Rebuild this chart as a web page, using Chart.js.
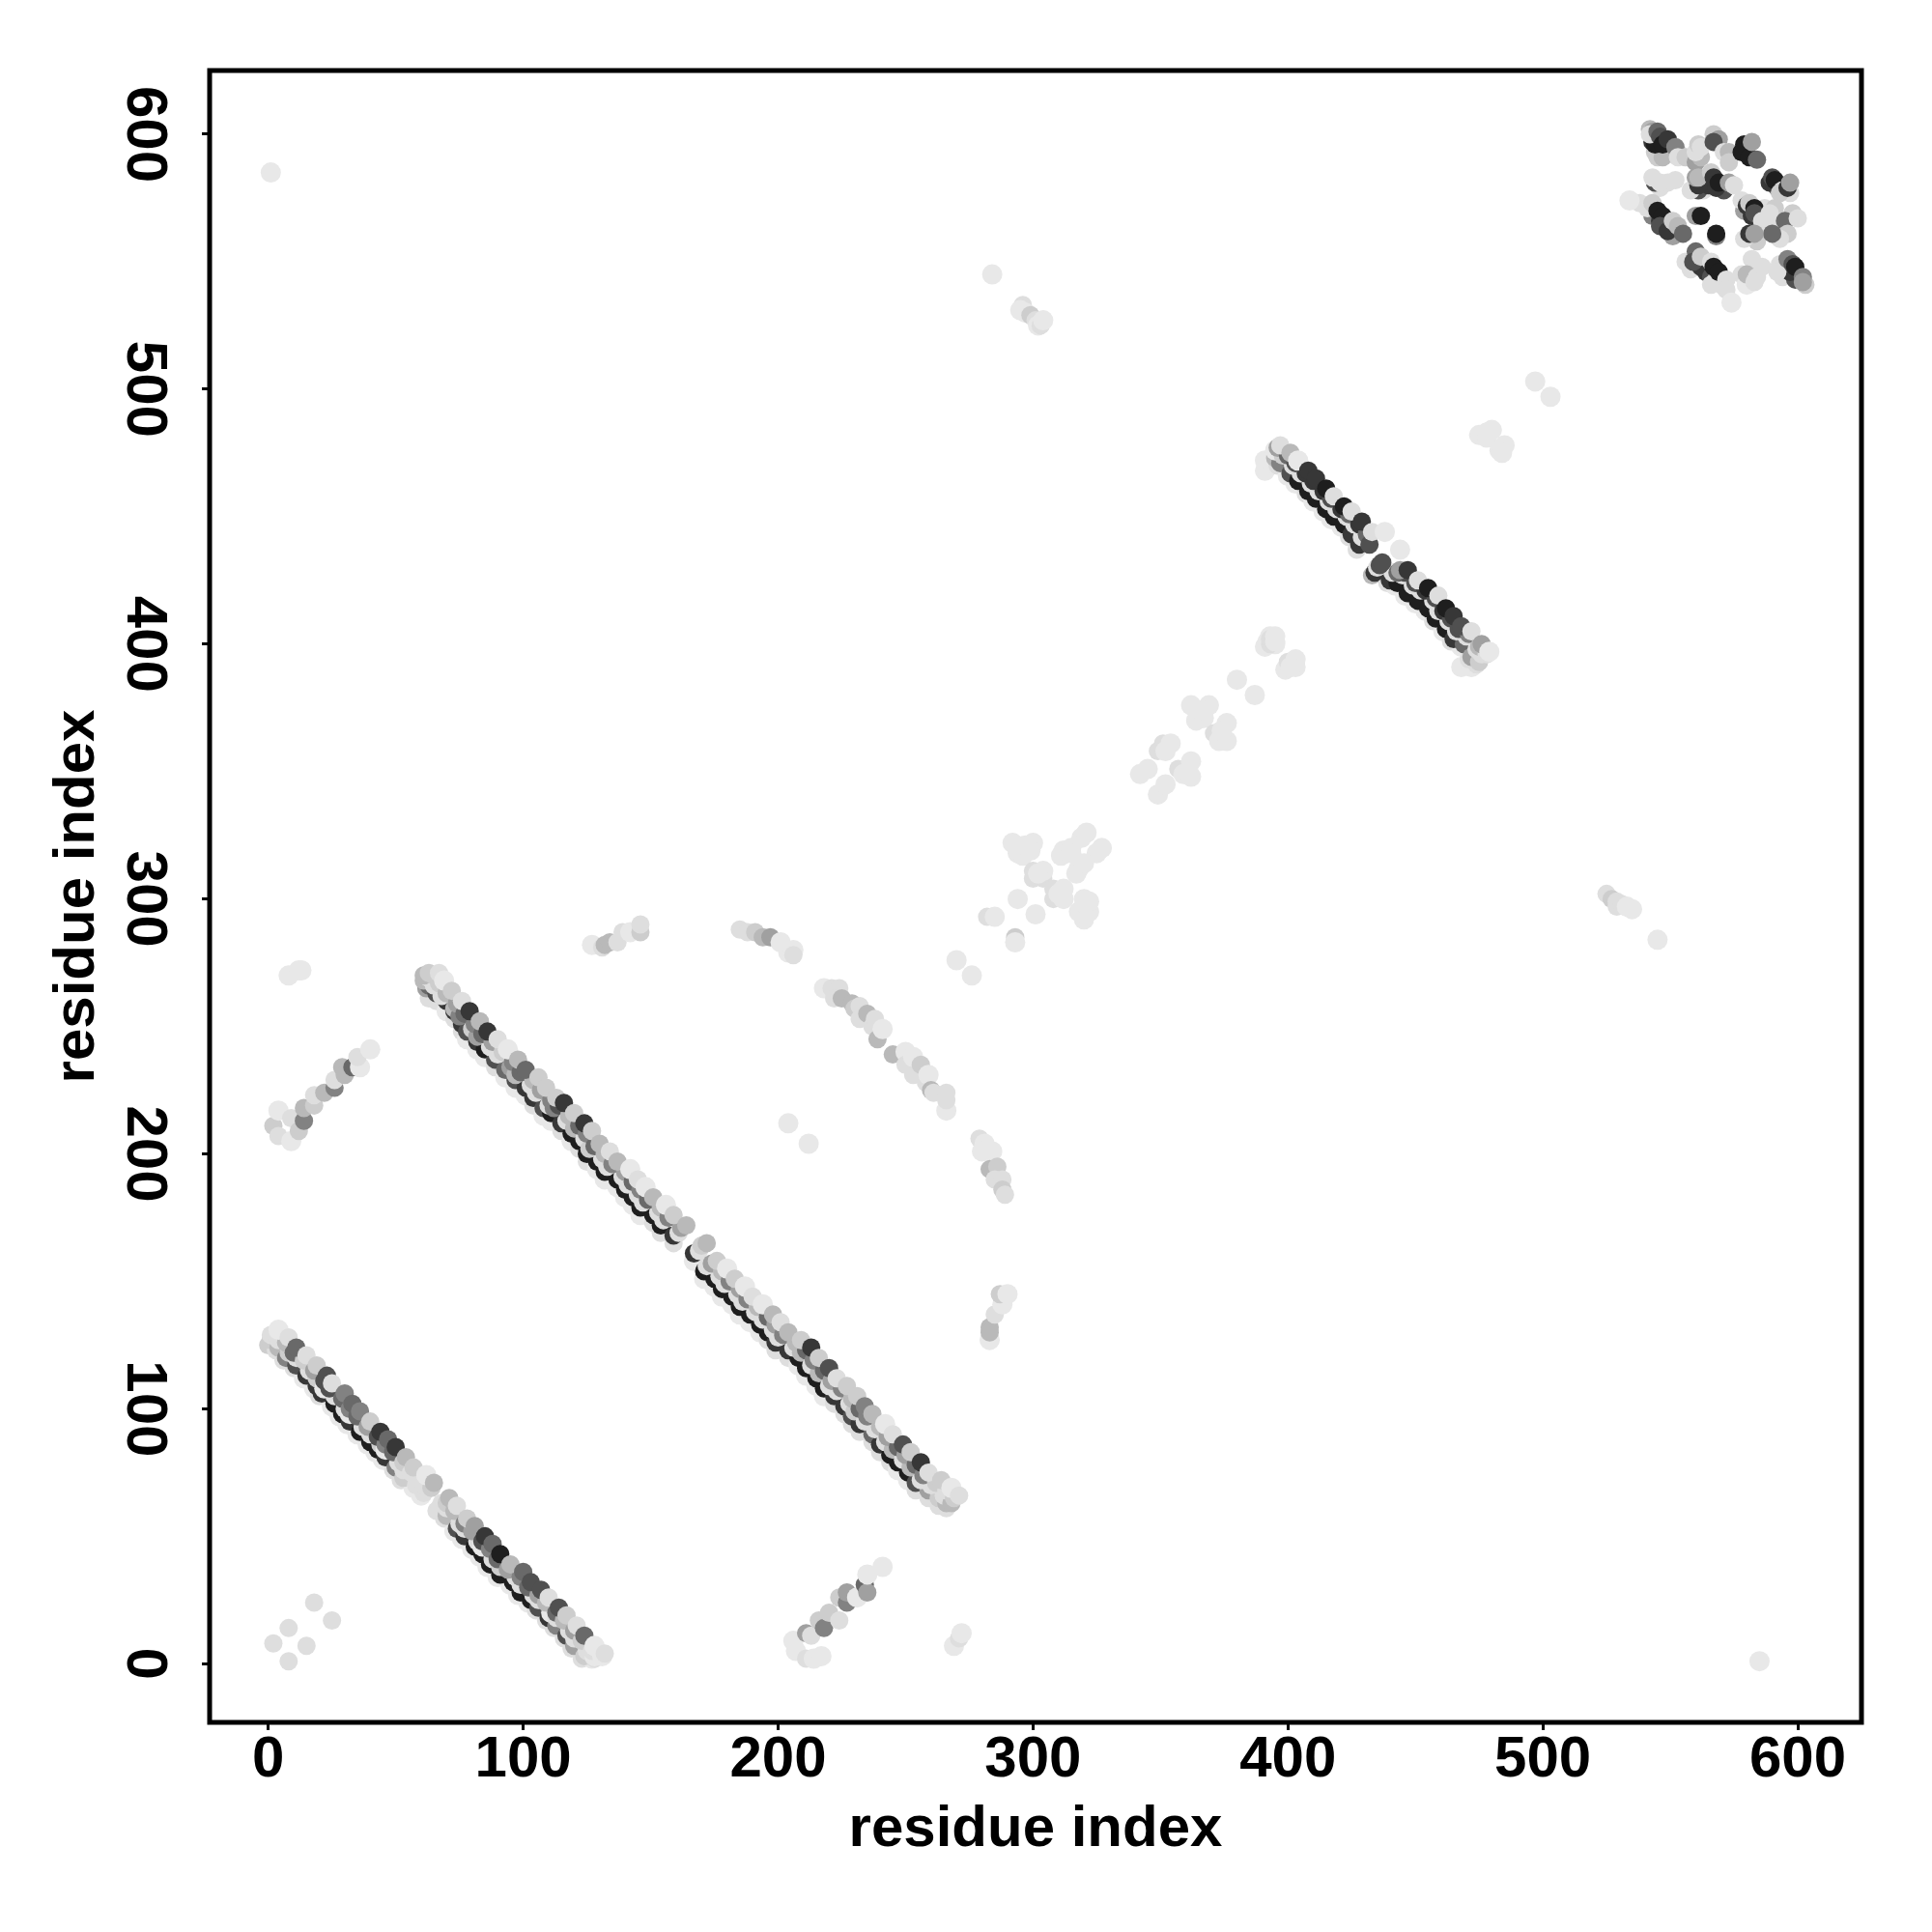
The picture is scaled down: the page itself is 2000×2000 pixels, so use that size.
<!DOCTYPE html>
<html>
<head>
<meta charset="utf-8">
<title>contact map</title>
<script src="https://cdn.jsdelivr.net/npm/chart.js@4"></script>
<style>
body { margin: 0; background: #ffffff; }
canvas { display: block; }
</style>
</head>
<body>
<canvas id="chart" width="2000" height="2000"></canvas>
<script>
// ----------------------------------------------------------------------
//	contact map, residue index vs residue index
//	every mark is [i, j, score], score 0 (weak) to 9 (strong)
// ----------------------------------------------------------------------
const tick_values = [0,100,200,300,400,500,600]
const axis_label = "residue index"

const band_a_low = [[0,125,2],[3,123,1],[6,119,1],[10,116,1],[14,112,0],[18,108,0],[20,105,1],[25,101,0],[28,97,0],[31,94,0],[35,90,0],[39,86,0],[42,83,0],[45,80,0],[49,76,1],[52,72,1],[57,69,0],[60,66,0],[66,60,1],[69,57,1],[73,52,0],[76,49,0],[80,45,0],[83,42,0],[86,38,0],[90,34,0],[95,31,0],[98,27,0],[102,24,0],[105,21,1],[109,17,1],[112,14,1],[116,10,1],[119,6,1],[123,2,1],[127,2,0]]
const band_a_dark = [[1,127,2],[4,124,3],[7,120,5],[11,117,7],[15,113,8],[19,109,8],[21,106,8],[26,102,9],[29,98,9],[32,95,8],[36,91,9],[40,87,9],[43,84,9],[46,81,8],[50,77,5],[53,73,2],[58,70,1],[61,67,1],[67,61,1],[70,58,3],[74,53,7],[77,50,8],[81,46,9],[84,43,9],[87,39,9],[91,35,9],[96,32,9],[99,28,9],[103,25,9],[106,22,7],[110,18,8],[113,15,5],[117,11,7],[120,7,4],[124,3,2],[128,2,1]]
const band_a_pale = [[1,129,1],[4,127,1],[8,122,2],[11,120,1],[16,115,1],[19,112,2],[22,108,0],[26,105,1],[30,100,1],[32,98,0],[37,93,1],[40,90,1],[44,86,2],[46,84,0],[51,79,1],[53,76,1],[59,72,1],[61,70,1],[68,63,1],[70,61,1],[75,55,1],[77,53,1],[82,48,1],[84,46,0],[88,41,1],[91,38,2],[97,34,1],[99,31,1],[104,27,1],[106,25,1],[111,20,0],[113,18,1],[118,13,1],[120,10,1],[125,5,1],[128,3,0]]
const band_a_mid = [[3,129,1],[7,126,3],[10,122,6],[14,119,2],[18,115,4],[22,111,7],[24,108,7],[29,104,6],[32,100,5],[35,97,6],[39,93,4],[43,89,7],[46,86,5],[49,83,6],[53,79,2],[56,75,1],[61,72,1],[64,69,2],[70,63,2],[73,60,3],[77,55,5],[80,52,4],[84,48,7],[87,45,5],[90,41,6],[94,37,4],[99,34,5],[102,30,6],[106,27,4],[109,24,3],[113,20,6],[116,17,3],[120,13,4],[123,9,2],[127,5,1],[131,3,0]]
const band_a_top = [[4,131,0],[8,128,1],[11,124,6],[15,121,1],[19,117,2],[23,113,7],[25,110,1],[30,106,5],[33,102,6],[36,99,5],[40,95,2],[44,91,8],[47,88,6],[50,85,8],[54,81,3],[57,77,2],[62,74,0],[65,71,3],[71,65,3],[74,62,1],[78,57,2],[81,54,4],[85,50,8],[88,47,6],[91,43,9],[95,39,3],[100,36,6],[103,32,7],[107,29,7],[110,26,1],[114,22,7],[117,19,2],[121,15,1],[124,11,6],[128,7,0],[132,4,1]]

const band_b_low = [[63,261,1],[65,263,1],[66,260,1],[70,256,0],[73,253,1],[76,248,1],[78,245,0],[82,241,0],[85,238,0],[89,234,1],[93,230,0],[97,226,0],[101,223,0],[104,219,1],[108,215,0],[111,213,0],[115,209,1],[119,205,0],[122,202,1],[125,197,1],[129,194,0],[132,190,0],[137,187,0],[140,183,0],[143,180,0],[146,176,0],[151,173,1],[154,169,1],[159,165,1],[167,158,0],[171,151,0],[175,148,0],[178,144,0],[182,141,0],[185,137,0],[189,134,0],[193,130,0],[196,127,1],[199,123,1],[204,120,1],[208,117,0],[211,113,0],[215,109,0],[218,105,0],[222,102,1],[226,98,1],[229,94,1],[232,91,1],[237,87,1],[240,83,1],[244,79,1],[247,76,0],[251,72,0],[254,68,1],[259,65,1],[263,62,1],[266,61,1]]
const band_b_dark = [[62,265,4],[63,266,6],[66,263,7],[70,260,8],[73,256,8],[76,251,8],[78,248,7],[82,244,8],[85,241,9],[89,237,7],[93,233,6],[97,229,7],[101,226,8],[104,222,8],[108,218,7],[111,216,9],[115,212,8],[119,208,9],[122,205,9],[125,200,9],[129,197,9],[132,193,9],[137,190,9],[140,186,9],[143,183,9],[146,179,9],[151,176,9],[154,172,9],[159,168,8],[167,161,8],[171,154,9],[175,151,9],[178,147,9],[182,144,9],[185,140,9],[189,137,9],[193,133,9],[196,130,9],[199,126,8],[204,123,8],[208,120,9],[211,116,9],[215,112,9],[218,108,9],[222,105,8],[226,101,8],[229,97,7],[232,94,8],[237,90,6],[240,86,8],[244,82,9],[247,79,9],[251,75,9],[254,71,7],[259,68,4],[263,65,2],[266,63,3]]
const band_b_pale = [[61,268,3],[63,269,1],[65,266,1],[68,262,1],[73,257,3],[75,254,5],[80,249,2],[82,246,4],[87,242,1],[90,239,1],[95,234,4],[97,231,3],[103,227,1],[105,224,1],[110,219,1],[112,218,5],[117,213,1],[120,210,3],[124,206,1],[126,202,2],[131,198,1],[133,195,1],[139,191,1],[141,188,1],[145,184,1],[147,181,1],[153,177,1],[155,174,1],[161,169,1],[169,162,1],[172,156,1],[177,152,1],[179,149,1],[184,145,1],[186,142,1],[191,138,1],[194,135,1],[198,131,1],[200,128,1],[206,124,1],[209,122,3],[213,117,1],[216,114,3],[220,109,1],[223,107,1],[228,102,1],[230,99,2],[234,95,1],[238,92,1],[242,87,1],[245,84,3],[249,80,1],[252,77,3],[256,72,1],[260,70,1],[265,66,1],[268,63,3]]
const band_b_mid = [[61,270,3],[65,270,2],[67,267,2],[70,263,3],[74,259,4],[77,255,6],[81,251,5],[84,247,6],[88,244,4],[92,240,2],[96,236,5],[99,232,6],[104,229,3],[107,225,4],[111,221,5],[114,219,7],[118,215,3],[122,211,6],[125,208,5],[128,203,6],[132,200,3],[135,196,5],[140,193,4],[143,189,6],[146,186,5],[149,182,6],[154,179,3],[157,175,5],[162,171,4],[170,164,2],[174,157,4],[178,154,3],[181,150,5],[185,147,4],[188,143,5],[192,140,3],[196,136,6],[199,133,4],[202,129,5],[207,126,3],[211,123,6],[214,119,5],[218,115,6],[221,111,4],[225,108,5],[229,104,3],[232,100,6],[235,97,5],[240,93,3],[243,89,4],[247,85,6],[250,82,4],[254,78,6],[257,74,5],[262,71,2],[266,68,1],[269,65,2]]
const band_b_top = [[63,271,2],[67,271,1],[69,268,0],[72,264,2],[76,260,1],[79,256,8],[83,252,3],[86,248,8],[90,245,1],[94,241,0],[98,237,3],[101,233,6],[106,230,2],[109,226,2],[113,222,2],[116,220,8],[120,216,2],[124,212,8],[127,209,2],[130,204,3],[134,201,1],[137,197,3],[142,194,0],[145,190,1],[148,187,0],[151,183,3],[156,180,0],[159,176,2],[164,172,3],[172,165,3],[176,158,2],[180,155,0],[183,151,2],[187,148,0],[190,144,1],[194,141,0],[198,137,3],[201,134,1],[204,130,3],[209,127,2],[213,124,8],[216,120,2],[220,116,7],[223,112,1],[227,109,2],[231,105,2],[234,101,5],[237,98,3],[242,94,0],[245,90,1],[249,86,7],[252,83,2],[256,79,8],[259,75,1],[264,72,2],[268,69,0],[271,66,1]]

const band_c_low = [[391,468,0],[391,472,0],[468,391,0],[472,391,0],[394,471,0],[396,470,1],[400,466,0],[403,463,0],[407,459,1],[410,456,0],[414,452,0],[417,449,0],[421,446,0],[424,442,1],[427,437,1],[433,427,3],[439,424,1],[442,423,0],[446,419,0],[450,416,0],[454,413,0],[457,409,1],[461,405,0],[464,401,1],[468,399,0],[471,394,1],[474,392,1]]
const band_c_dark = [[395,473,3],[397,471,5],[401,467,7],[404,464,9],[408,460,9],[411,457,9],[415,453,9],[418,450,9],[422,447,9],[425,443,8],[428,439,8],[434,428,8],[440,425,8],[443,424,9],[447,420,9],[451,417,9],[455,414,9],[458,410,9],[462,406,9],[465,402,8],[469,400,6],[472,395,4],[475,393,2]]
const band_c_pale = [[395,476,0],[398,474,2],[402,470,1],[405,467,1],[409,463,1],[412,460,1],[416,456,1],[419,453,1],[423,450,1],[426,447,1],[429,442,1],[435,430,1],[441,428,1],[445,427,1],[449,423,1],[452,421,1],[457,417,1],[459,413,1],[463,409,1],[466,405,1],[470,403,1],[474,398,1],[476,396,1]]
const band_c_mid = [[396,477,4],[400,474,6],[403,471,7],[407,467,8],[410,464,8],[414,460,8],[417,457,7],[421,453,8],[424,451,6],[428,447,8],[431,443,6],[436,431,7],[443,428,6],[446,428,7],[450,424,7],[454,421,8],[458,418,7],[461,413,8],[464,410,7],[467,406,7],[471,404,5],[475,399,3],[478,396,1]]
const band_c_top = [[397,478,1],[401,475,3],[404,472,0],[408,468,8],[411,465,8],[415,461,9],[418,458,1],[422,454,9],[425,452,1],[429,448,8],[432,439,7],[433,444,1],[438,444,0],[437,432,7],[444,429,4],[444,437,0],[447,429,8],[451,425,1],[455,422,9],[459,419,1],[462,414,9],[465,411,8],[468,407,7],[472,405,1],[476,400,4],[479,397,0]]

const corner_under = [
	[544,593,2],[549,592,1],[548,594,6],[553,593,1],[546,579,1],[549,581,1],[563,578,1],[561,578,7],[565,580,8],[571,578,7],[568,579,8],
	[592,579,6],[589,581,8],[597,577,1],[538,573,1],[543,568,5],[549,566,8],[546,566,8],[550,563,3],[553,561,1],[551,560,4],
	[579,570,4],[578,574,1],[584,566,4],[582,568,8],[587,571,1],[590,564,1],[586,562,2],[584,558,2],
	[595,548,3],[594,544,1],[600,545,3],[599,543,7],[603,541,2],[597,546,8],
	[556,550,1],[558,547,1],[562,548,8],[564,546,8],[566,544,7],[568,543,2],[570,541,1],[566,541,1],[578,545,1],[586,548,1],[580,541,0]
]
const corner_top_right = [
	[545,591,2],[547,591,3],[542,602,3],[543,601,4],[543,597,8],[544,596,9],[542,600,1],[545,601,6],[546,599,7],[547,596,9],[549,598,8],[552,595,5],
	[553,591,1],[556,591,2],[560,589,4],[562,591,3],[560,593,1],[561,596,2],[562,595,1],[567,600,2],[569,598,4],[567,597,7],[571,593,1],[573,593,3],[573,589,2],
	[579,596,9],[578,593,9],[581,591,9],[582,597,4],[584,590,6],
	[544,581,7],[543,583,1],[546,581,1],[552,582,1],[558,578,1],[561,580,8],[560,583,4],[561,583,3],[566,585,2],[567,583,8],[569,581,9],[573,581,4],[575,580,1],
	[590,583,7],[591,582,9],[594,578,1],[593,577,2],[596,579,8],[597,581,4],
	[534,574,0],[541,571,1],[543,573,2],[545,570,9],[547,568,9],[546,564,7],[549,562,8],[551,566,2],[553,564,3],[555,561,6],
	[560,568,4],[562,568,9],[568,560,5],[568,561,9],
	[580,572,8],[581,573,2],[583,571,9],[583,569,7],[586,566,1],[591,571,2],[589,569,1],[598,569,2],[595,566,6],[600,567,1],[596,561,2],[593,559,1],[590,561,6],[579,559,1],[581,561,8],[583,561,4],
	[593,549,1],[592,546,1],[596,551,5],[598,549,7],[599,548,9],[602,544,5],[602,542,4],
	[560,554,6],[559,550,7],[562,552,2],[566,550,1],[567,548,9],[569,546,9],[572,543,1],[572,539,1],[574,534,0],
	[582,551,1],[580,545,3],[584,544,1],[583,542,1]
]

const near_origin = [[18,24,1],[25,17,1],[8,14,1],[2,8,1],[15,7,1],[8,1,1]]
const lone_points = [[1,585,0],[585,1,0],[284,545,0],[545,284,0],[497,503,0],[503,497,0],[204,212,0],[212,204,0],[269,7,0],[271,10,1],[272,12,0],[8,270,0],[12,272,0],[13,272,0]]
const patch_upper = [[296,533,1],[295,531,0],[297,530,0],[299,529,2],[301,527,1],[302,525,0],[303,525,1],[304,527,0],[525,302,1],[527,300,2],[529,299,1],[529,297,1],[531,298,1],[533,297,0],[535,296,0]]
const patch_mid = [[475,482,0],[478,483,0],[480,484,0],[478,481,0],[483,476,0],[485,478,0],[484,475,0],[391,399,0],[392,401,0],[393,403,0],[395,402,1],[395,400,0],[399,390,0],[400,393,1],[403,394,0],[403,391,0],[401,391,0]]

const diag_cells = [
	[270,276,0],[276,270,0],[282,293,1],[285,293,0],[293,285,2],[293,283,0],[294,300,0],[301,294,0],
	[292,322,0],[294,318,0],[296,317,0],[300,322,0],[297,321,0],[299,319,0],
	[311,317,0],[312,319,0],[315,320,0],[315,318,0],[319,324,0],[321,326,0],[325,318,0],[327,320,0],
	[300,308,1],[304,308,1],[300,311,1],[304,311,0],[302,310,0],[317,310,0],[318,312,0],[320,314,0],
	[308,300,1],[312,300,0],[308,304,1],[312,304,0],[310,302,0],
	[320,292,0],[318,295,0],[322,295,0],[320,300,0],[322,299,0],
	[349,358,1],[351,361,1],[354,361,0],[352,358,0],[342,349,0],[345,351,0],[349,341,0],[352,345,0],
	[357,351,1],[359,349,0],[362,354,0],[362,348,0],
	[362,376,0],[369,376,0],[364,370,0],[367,371,0],[366,374,0],[376,369,0],[371,365,1],[376,362,0],[373,362,0],[374,366,0],
	[380,386,0],[387,380,0],[393,400,1],[393,402,1],[395,403,0],[395,401,0]
]

const arc_upper = [[127,282,0],[131,281,1],[132,282,3],[134,283,3],[137,283,1],[139,287,1],[142,287,0],[146,287,2],[146,290,1],[185,288,1],[188,287,1],[191,287,2],[194,285,3],[197,285,4],[201,283,0],[204,279,0],[206,280,0],[206,278,1]]
const arc_right = [[218,265,0],[221,265,1],[224,265,1],[222,261,1],[225,261,3],[229,259,3],[230,257,2],[232,258,1],[232,253,1],[235,255,3],[237,250,1],[239,245,3],[238,253,1],[241,249,0],[245,239,3],[250,240,0],[250,235,1],[253,238,0],[253,231,1],[256,235,2],[258,228,1],[259,231,0],[260,225,3],[261,224,1],[266,217,0],[266,221,1],[266,224,1]]
const arc_far = [[279,206,1],[281,204,0],[280,201,0],[284,201,0],[283,194,3],[286,195,2],[285,190,1],[288,190,1],[288,186,2],[289,184,1],[283,127,0],[283,132,3],[283,130,3],[285,137,1],[288,141,0],[287,145,2],[290,145,0]]
const arc_left = [[2,211,2],[4,217,0],[4,207,1],[9,205,0],[9,214,1],[12,209,2],[14,213,5],[14,218,3],[18,219,2],[18,223,1],[22,224,3],[26,226,5],[26,229,1],[29,234,3],[30,231,3],[33,234,6],[36,234,0],[35,238,1],[40,241,0]]
const arc_low = [[206,9,0],[207,5,0],[211,2,1],[214,2,0],[217,3,0],[211,12,4],[213,11,1],[216,17,2],[218,14,5],[220,20,2],[224,17,1],[224,26,2],[227,24,5],[227,28,4],[231,26,0],[234,31,6],[235,28,4],[235,35,0],[241,38,0]]

// ----------------------------------------------------------------------
const grey_of_score = [232,222,205,185,160,130,105,80,55,30]

const all_marks = [
	near_origin,lone_points,patch_upper,patch_mid,diag_cells,
	arc_upper,arc_right,arc_far,arc_left,arc_low,
	band_a_low,band_a_dark,band_a_pale,band_a_mid,band_a_top,
	band_b_low,band_b_dark,band_b_pale,band_b_mid,band_b_top,
	band_c_low,band_c_dark,band_c_pale,band_c_mid,band_c_top,
	corner_under,corner_top_right
	].flat()

const points = all_marks.map (function (mm) { return {x: mm[0], y: mm[1]} })
const colors = all_marks.map (function (mm)
	{
	const gg = grey_of_score[mm[2]]
	return "rgb(" + gg + "," + gg + "," + gg + ")"
	})
// the weakest contacts are drawn a little larger in the picture
const radii = all_marks.map (function (mm) { return mm[2] == 0 ? 10.5 : 9.5 })

// ----------------------------------------------------------------------
const font_tick = {family: "'Liberation Sans'", weight: "bold", size: 60}
const font_title = {family: "'Liberation Sans'", weight: "bold", size: 60}

const frame_plugin = {
	id: "frame",
	afterDatasetsDraw: function (chart)
		{
		const ctx = chart.ctx
		const area = chart.chartArea
		ctx.save()
		ctx.strokeStyle = "#000000"
		ctx.lineWidth = 5
		ctx.strokeRect (area.left,area.top,area.right - area.left,area.bottom - area.top)
		ctx.restore()
		}
	}

function set_ticks (scale)
{
	scale.ticks = tick_values.map (function (vv) { return {value: vv} })
}

function axis_common (title_padding)
{
	return {
		type: "linear",
		min: -23,
		max: 625,
		afterBuildTicks: set_ticks,
		border: {display: false},
		grid: {drawOnChartArea: false,drawTicks: true,tickLength: 8,tickWidth: 3,tickColor: "#000000"},
		title: {display: true,text: axis_label,color: "#000000",font: font_title,padding: title_padding}
		}
}

const x_axis = axis_common ({top: 0,bottom: 70})
x_axis.ticks = {color: "#000000",font: font_tick,padding: -5,maxRotation: 0,autoSkip: false}
x_axis.afterFit = function (scale) { scale.height = 217 }

const y_axis = axis_common ({top: 44,bottom: 0})
y_axis.ticks = {color: "#000000",font: font_tick,padding: 10,minRotation: -90,maxRotation: -90,autoSkip: false,align: "center",crossAlign: "center"}
y_axis.afterFit = function (scale) { scale.width = 217 }

const config = {
	type: "scatter",
	data: {datasets: [{
		data: points,
		showLine: false,
		pointRadius: radii,
		pointBorderWidth: 0,
		pointBackgroundColor: colors
		}]},
	options: {
		responsive: false,
		animation: false,
		layout: {padding: {top: 73,right: 73,left: 0,bottom: 0}},
		plugins: {legend: {display: false},tooltip: {enabled: false}},
		scales: {x: x_axis,y: y_axis}
		},
	plugins: [frame_plugin]
	}

const chart = new Chart (document.getElementById("chart"),config)
// ----------------------------------------------------------------------
</script>
</body>
</html>
